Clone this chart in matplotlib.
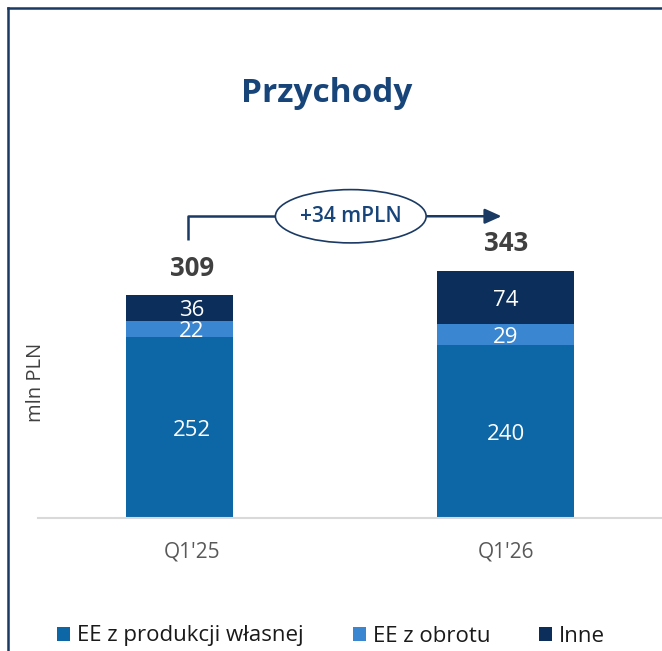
import matplotlib
matplotlib.use("Agg")
import matplotlib.pyplot as plt
from matplotlib.patches import Ellipse, Patch
from matplotlib.lines import Line2D

plt.rcParams["font.family"] = ["Open Sans", "DejaVu Sans"]

# data (mln PLN)
quarters = ["Q1'25", "Q1'26"]
own_production = [252, 240]
trading = [22, 29]
other = [36, 74]
totals = [309, 343]  # as reported (rounded)
series_names = ["EE z produkcji własnej", "EE z obrotu", "Inne"]
delta_label = "+34 mPLN"

colors = ["#0d67a7", "#3a86d1", "#0c2e5b"]
navy = "#1b3a63"
title_col = "#17457a"
grey_txt = "#404040"

pos = [0, 1]
bar_off = [-0.04, 0.0]
bar_w = [0.341, 0.436]

fig = plt.figure(figsize=(6.62, 6.51), dpi=100)

# frame lines (left and top)
fig.add_artist(Line2D([8 / 662, 8 / 662], [0, 1 - 8 / 651], transform=fig.transFigure,
                      color=navy, lw=1.8))
fig.add_artist(Line2D([8 / 662, 1], [1 - 8 / 651, 1 - 8 / 651], transform=fig.transFigure,
                      color=navy, lw=1.8))

fig.text(327 / 662, 1 - 93 / 651, "Przychody", ha="center", va="center",
         fontsize=24, fontweight="bold", color=title_col)

ax = fig.add_axes([38 / 662, (651 - 518) / 651, 624 / 662, 368 / 651])
ax.set_xlim(-0.49, 1.497)
ax.set_ylim(0, 511)

xs = [p + o for p, o in zip(pos, bar_off)]
bottom = [0, 0]
for vals, col in zip([own_production, trading, other], colors):
    ax.bar(xs, vals, width=bar_w, bottom=bottom, color=col, edgecolor="none", zorder=2)
    for i, v in enumerate(vals):
        ax.annotate(str(v), (pos[i], bottom[i] + v / 2), xytext=(0, -2),
                    textcoords="offset points", ha="center", va="center",
                    color="white", fontsize=16)
    bottom = [b + v for b, v in zip(bottom, vals)]

for i, t in enumerate(totals):
    ax.text(pos[i], t + 38, str(t), ha="center", va="center",
            fontsize=18.5, fontweight="bold", color=grey_txt)

# change annotation
y_line = totals[1] + 76
ax.plot([pos[0] - 0.013, pos[0] - 0.013, 0.27], [totals[0] + 77, y_line, y_line],
        color=navy, lw=1.8, solid_capstyle="butt", clip_on=False)
ax.annotate("", xy=(0.995, y_line), xytext=(0.74, y_line),
            arrowprops=dict(arrowstyle="-|>,head_length=1.0,head_width=0.45",
                            color=navy, lw=1.8), annotation_clip=False)
ax.add_patch(Ellipse((0.506, y_line), 0.48, 74, facecolor="white",
                     edgecolor=navy, lw=1.2, zorder=3, clip_on=False))
ax.text(0.506, y_line, delta_label, ha="center", va="center", fontsize=15,
        fontweight="semibold", color=title_col, zorder=4)

ax.set_xticks(pos)
ax.set_xticklabels(quarters, fontsize=15, color="#595959")
ax.tick_params(axis="x", length=0, pad=17)
ax.set_yticks([])
for s in ["left", "right", "top"]:
    ax.spines[s].set_visible(False)
ax.spines["bottom"].set_color("#d9d9d9")
ax.spines["bottom"].set_linewidth(1.5)

fig.text(36 / 662, 1 - 382 / 651, "mln PLN", rotation=90, ha="center", va="center",
         fontsize=14.5, color=grey_txt)

handles = [Patch(facecolor=c, edgecolor="none") for c in colors]
fig.legend(handles, series_names, loc="center left",
           bbox_to_anchor=(57 / 662, 1 - 636 / 651), ncol=3, frameon=False,
           fontsize=16, handlelength=0.6, handleheight=0.6, handletextpad=0.3,
           columnspacing=2.2, borderpad=0, borderaxespad=0, labelcolor="#1a1a1a")

fig.savefig("out.png", dpi=100)
